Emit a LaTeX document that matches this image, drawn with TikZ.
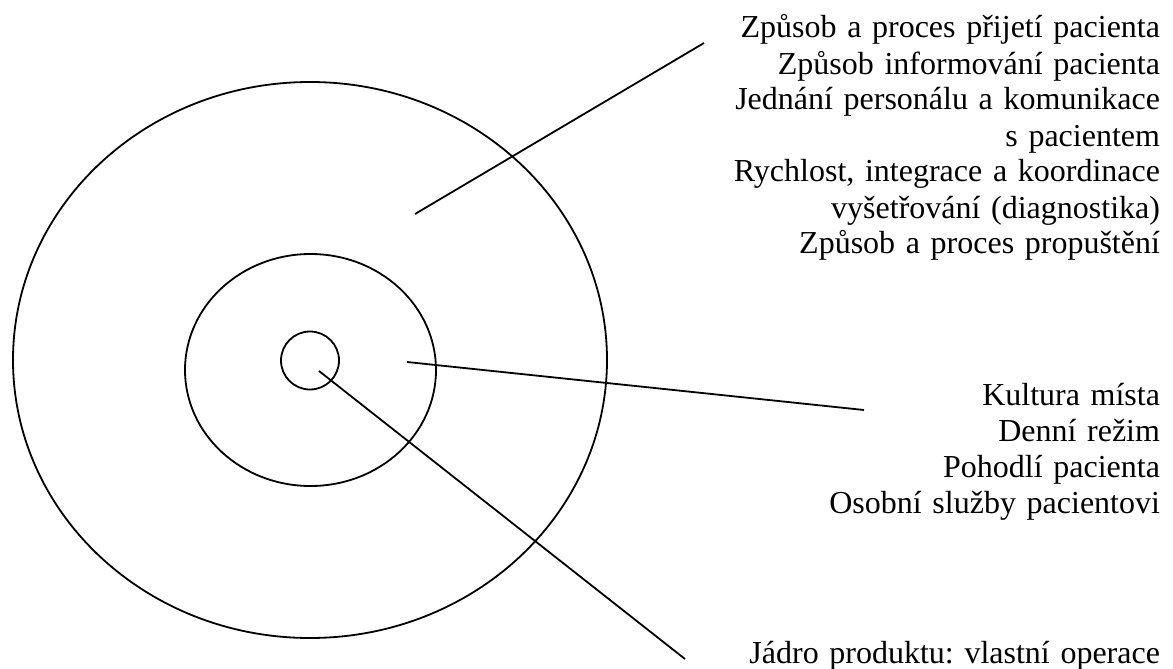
\documentclass[tikz,border=0pt]{standalone}
\usepackage{fontspec}
\setmainfont[WordSpace=0.85]{Liberation Serif}
\begin{document}
\frenchspacing
\begin{tikzpicture}[x=1pt,y=-1pt,
  ring/.style={draw=black,line width=1.8pt},
  leader/.style={draw=black,line width=1.8pt},
  label/.style={inner sep=0pt,outer sep=0pt,text width=440pt,align=right,anchor=base east,
    font=\fontsize{32}{36}\selectfont\frenchspacing}]
\useasboundingbox (0,0) rectangle (1173,669);
% rings
\draw[ring] (310,360) ellipse [x radius=297, y radius=278];
\draw[ring] (310.5,370) ellipse [x radius=125.5, y radius=116];
\draw[ring] (310,360.5) circle [radius=29];
% leader ends
\coordinate (s1) at (415,214);
\coordinate (e1) at (704,43);
\coordinate (s2) at (407,362);
\coordinate (e2) at (864,410);
\coordinate (s3) at (319,371);
\coordinate (e3) at (685,659);
\draw[leader] (s1) -- (e1);
\draw[leader] (s2) -- (e2);
\draw[leader] (s3) -- (e3);
% labels
\node[label] (t1) at (1160,38) {Způsob a proces přijetí pacienta\\Způsob informování pacienta\\Jednání personálu a komunikace\\s pacientem\\Rychlost, integrace a koordinace\\vyšetřování (diagnostika)\\Způsob a proces propuštění};
\node[label] (t2) at (1160,405) {Kultura místa\\Denní režim\\Pohodlí pacienta\\Osobní služby pacientovi};
\node[label] (t3) at (1160,663) {Jádro produktu: vlastní operace};
\end{tikzpicture}
\end{document}
